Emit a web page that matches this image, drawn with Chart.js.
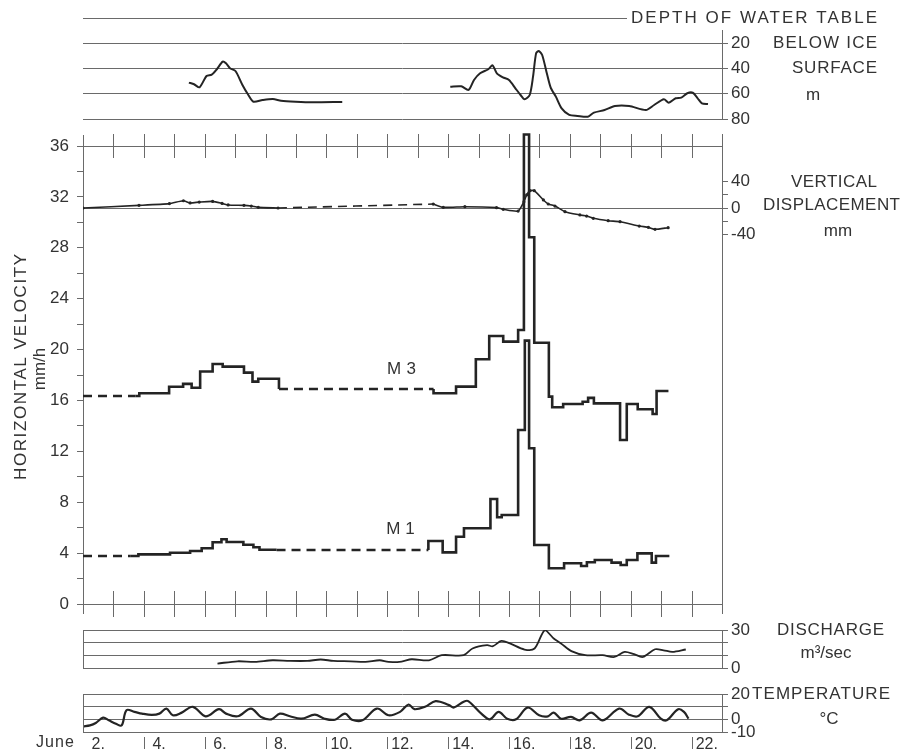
<!DOCTYPE html>
<html>
<head>
<meta charset="utf-8">
<title>Horizontal velocity, water table, discharge and temperature, June</title>
<script src="https://cdn.jsdelivr.net/npm/chart.js@4.4.1/dist/chart.umd.min.js"></script>
<style>
  html, body { margin: 0; padding: 0; background: #fff; }
  #board { position: relative; width: 909px; height: 751px; }
  #board canvas { position: absolute; left: 0; top: 0; }
</style>
</head>
<body>
<div id="board">
  <canvas id="waterChart" width="909" height="751"></canvas>
  <canvas id="velocityChart" width="909" height="751"></canvas>
  <canvas id="dischargeChart" width="909" height="751"></canvas>
  <canvas id="temperatureChart" width="909" height="751"></canvas>
</div>
<script>
// Days are June dates with fractions (2.5 = noon on June 2).
var DAY_MIN = 2, DAY_MAX = 23;
var dayLabels = [2, 4, 6, 8, 10, 12, 14, 16, 18, 20, 22];

// depth of water table below ice surface, m
var waterDaysA = [5.48, 5.65, 5.83, 6.06, 6.23, 6.40, 6.59, 6.70, 6.83, 7.01, 7.24, 7.42, 7.60, 7.90, 8.24, 8.51, 8.99, 9.53, 10.52];
var waterDepthA = [51.2, 52.5, 54.9, 45.9, 44.9, 40.6, 34.6, 35.9, 39.8, 42.0, 53.0, 60.4, 66.3, 65.0, 64.2, 65.5, 66.3, 66.8, 66.5];
var waterDaysB = [14.07, 14.43, 14.67, 14.85, 15.05, 15.32, 15.46, 15.60, 15.80, 16.00, 16.21, 16.38, 16.51, 16.68, 16.79, 16.89, 16.98, 17.09, 17.23, 17.37, 17.54, 17.73, 17.98, 18.25, 18.59, 18.79, 19.14, 19.48, 19.95, 20.50, 20.77, 21.09, 21.25, 21.48, 21.66, 21.86, 22.04, 22.20, 22.34, 22.54];
var waterDepthB = [54.4, 54.1, 57.0, 49.1, 43.8, 40.6, 37.5, 43.8, 47.0, 49.1, 55.7, 61.0, 64.4, 61.0, 46.5, 28.0, 26.1, 29.3, 42.5, 55.2, 62.3, 71.6, 76.8, 77.6, 78.2, 75.0, 72.9, 69.7, 69.7, 72.9, 68.9, 64.4, 67.1, 63.6, 63.1, 59.6, 59.2, 63.6, 67.6, 68.1];

// vertical displacement, mm
var dispDaysA = [2.0, 3.84, 4.84, 5.30, 5.52, 5.82, 6.26, 6.57, 6.77, 7.29, 7.53, 7.76, 8.41];
var dispMmA = [0, 4, 6.7, 11, 7.7, 9, 10, 7, 4.6, 4, 3, 1, 0];
var dispGapDays = [8.41, 13.51];
var dispGapMm = [0, 6];
var dispDaysB = [13.51, 13.84, 14.55, 15.59, 15.81, 16.30, 16.49, 16.58, 16.69, 16.83, 17.13, 17.29, 17.51, 17.84, 18.33, 18.55, 18.77, 19.26, 19.65, 20.28, 20.58, 20.80, 21.23];
var dispMmB = [6, 1, 2, 0.5, -2, -4.6, 9.6, 19.8, 26.3, 26.3, 12.2, 6.1, 3, -5.6, -10.6, -12.2, -15.7, -19.3, -20.8, -27.4, -29.4, -32.4, -29.9];

// horizontal velocity M 3, mm/h (value holds from its day to the next one)
var m3GapDaysA = [2.0, 3.72];
var m3GapVelA = [16.35, 16.35];
var m3DaysA = [3.72, 3.85, 4.83, 5.29, 5.57, 5.85, 6.26, 6.59, 7.29, 7.57, 7.76, 8.44];
var m3VelA = [16.35, 16.56, 17.08, 17.3, 17.0, 18.27, 18.87, 18.66, 18.19, 17.48, 17.71, 16.9];
var m3GapDaysB = [8.44, 13.52];
var m3GapVelB = [16.9, 16.9];
var m3DaysB = [13.52, 13.52, 14.26, 14.91, 15.35, 15.81, 16.30, 16.49, 16.66, 16.83, 17.31, 17.42, 17.78, 18.42, 18.60, 18.79, 19.65, 19.87, 20.23, 20.72, 20.85, 21.24];
var m3VelB = [16.9, 16.56, 17.09, 19.24, 21.07, 20.62, 21.54, 36.9, 28.83, 20.54, 16.3, 15.46, 15.72, 15.9, 16.2, 15.77, 12.89, 15.72, 15.31, 14.94, 16.74, 16.74];

// horizontal velocity M 1, mm/h
var m1GapDaysA = [2.0, 3.55];
var m1GapVelA = [3.77, 3.77];
var m1DaysA = [3.55, 3.82, 4.86, 5.52, 5.90, 6.26, 6.55, 6.72, 7.27, 7.60, 7.80, 8.36];
var m1VelA = [3.77, 3.9, 4.03, 4.17, 4.38, 4.85, 5.09, 4.87, 4.66, 4.46, 4.27, 4.27];
var m1GapDaysB = [8.36, 13.35];
var m1GapVelB = [4.25, 4.25];
var m1DaysB = [13.35, 13.35, 13.82, 14.26, 14.52, 15.39, 15.61, 15.76, 16.30, 16.52, 16.66, 16.83, 17.31, 17.81, 18.37, 18.56, 18.82, 19.37, 19.67, 19.87, 20.22, 20.69, 20.83, 21.27];
var m1VelB = [4.25, 4.95, 4.06, 5.29, 5.95, 8.25, 6.82, 7.0, 13.68, 20.7, 12.24, 4.64, 2.81, 3.2, 2.99, 3.28, 3.46, 3.25, 3.07, 3.46, 3.98, 3.25, 3.77, 3.77];

// discharge, m3/sec
var dischargeDays = [6.42, 7.08, 7.65, 8.23, 8.80, 9.37, 9.81, 10.23, 10.80, 11.28, 11.75, 12.04, 12.47, 12.80, 13.37, 13.79, 14.51, 14.80, 15.28, 15.47, 15.75, 16.03, 16.51, 16.84, 17.18, 17.47, 17.71, 18.05, 18.51, 19.08, 19.46, 19.80, 20.11, 20.40, 20.80, 21.08, 21.37, 21.81];
var dischargeVal = [3.5, 5.3, 4.8, 6.1, 5.6, 5.6, 6.7, 5.6, 5.3, 4.8, 6.1, 4.8, 5.1, 6.9, 6.1, 10.1, 10.1, 15.4, 18.0, 17.2, 21.4, 19.4, 14.6, 15.4, 29.9, 23.3, 19.4, 13.3, 10.1, 10.1, 8.7, 12.7, 10.9, 8.7, 14.8, 14.0, 12.7, 14.6];

// air temperature, deg C
var tempDays = [2.00, 2.23, 2.42, 2.66, 2.85, 3.08, 3.27, 3.43, 3.69, 3.94, 4.26, 4.51, 4.74, 4.95, 5.23, 5.61, 6.03, 6.47, 6.70, 7.08, 7.52, 7.85, 8.19, 8.47, 8.80, 9.18, 9.62, 9.94, 10.28, 10.61, 10.84, 11.18, 11.66, 12.04, 12.42, 12.70, 12.89, 13.24, 13.59, 14.03, 14.19, 14.51, 14.66, 15.09, 15.37, 15.66, 15.94, 16.23, 16.61, 16.99, 17.28, 17.47, 17.71, 18.04, 18.32, 18.70, 19.08, 19.62, 19.94, 20.23, 20.61, 20.99, 21.18, 21.56, 21.75, 21.90];
var tempVal = [-5.6, -4.8, -2.9, 1.3, -0.8, -3.5, -4.8, 7.2, 5.9, 4.5, 3.5, 4.5, 8.5, 3.2, 5.1, 9.9, 2.4, 8.0, 4.5, 2.4, 8.5, 1.9, 0.0, 4.5, 2.4, 0.5, 3.7, 0.5, -0.3, 4.5, -0.3, -0.8, 8.5, 3.2, 5.9, 11.7, 8.0, 9.9, 14.4, 11.2, 9.3, 13.9, 14.4, 4.5, 0.0, 5.9, 0.5, 0.0, 9.3, 3.2, 2.4, 5.3, 0.5, 1.9, -0.8, 5.3, -0.8, 8.5, 3.7, 2.4, 9.9, 0.5, -0.8, 8.0, 5.9, 0.5];

var ink = '#242424';
var gridInk = '#6a6a6a';
var textInk = '#333';
var FONT = "'Liberation Sans', Arial, sans-serif";
var RIGHT_AXIS = 40;          // width kept for the right-hand number column
var PAD_RIGHT = 909 - 722 - RIGHT_AXIS;
var NONE = 'rgba(0,0,0,0)';

function pts(xs, ys) {
  return xs.map(function (x, i) { return { x: x, y: ys[i] }; });
}

// text spread between two x positions, like the lettering on the original
function spread(ctx, str, left, right, y, size) {
  ctx.save();
  ctx.font = size + 'px ' + FONT;
  ctx.fillStyle = textInk;
  ctx.textBaseline = 'middle';
  var w = ctx.measureText(str).width;
  var gap = str.length > 1 ? (right - left - w) / (str.length - 1) : 0;
  if (gap > 0 && 'letterSpacing' in ctx) {
    ctx.letterSpacing = gap.toFixed(2) + 'px';
    ctx.textAlign = 'left';
    ctx.fillText(str, left, y);
  } else {
    ctx.textAlign = 'center';
    ctx.fillText(str, (left + right) / 2, y);
  }
  ctx.restore();
}

function centred(ctx, str, x, y, size) {
  ctx.save();
  ctx.font = size + 'px ' + FONT;
  ctx.fillStyle = textInk;
  ctx.textBaseline = 'middle';
  ctx.textAlign = 'center';
  ctx.fillText(str, x, y);
  ctx.restore();
}

function vline(ctx, x, y1, y2) {
  var px = Math.round(x) + 0.5;
  ctx.moveTo(px, y1);
  ctx.lineTo(px, y2);
}

function baseOptions(top, bottom) {
  return {
    responsive: false,
    animation: false,
    events: [],
    layout: { padding: { left: 83, right: PAD_RIGHT, top: top, bottom: bottom } },
    plugins: { legend: { display: false }, tooltip: { enabled: false } },
    elements: {
      point: { radius: 0 },
      line: { borderColor: ink, borderWidth: 2, fill: false, tension: 0.3 }
    }
  };
}

function dayAxis() {
  return { type: 'linear', min: DAY_MIN, max: DAY_MAX, display: false };
}

function rightAxis(min, max, values, labelOf, gridOf, showBorder) {
  return {
    position: 'right',
    min: min,
    max: max,
    afterFit: function (s) { s.width = RIGHT_AXIS; },
    afterBuildTicks: function (s) {
      s.ticks = values.map(function (v) { return { value: v }; });
    },
    border: { display: showBorder, color: gridInk, width: 1 },
    grid: { color: gridOf, tickColor: gridInk, tickLength: 6, lineWidth: 1 },
    ticks: {
      autoSkip: false, padding: 3, color: textInk,
      font: { family: FONT, size: 17 },
      callback: labelOf
    }
  };
}

function allGrid() { return gridInk; }

// ---------- depth of water table ----------
var waterDecor = {
  id: 'waterDecor',
  afterDraw: function (chart) {
    var ctx = chart.ctx, a = chart.chartArea, y = chart.scales.y;
    ctx.save();
    ctx.strokeStyle = gridInk;
    ctx.lineWidth = 1;
    ctx.beginPath();
    var y0 = Math.round(y.getPixelForValue(0)) + 0.5;
    ctx.moveTo(a.left, y0);
    ctx.lineTo(627, y0);
    vline(ctx, a.right, 30, y.getPixelForValue(80));
    ctx.stroke();
    ctx.restore();
    spread(ctx, 'DEPTH OF WATER TABLE', 631, 877, y0, 17);
    spread(ctx, 'BELOW ICE', 773, 877, y.getPixelForValue(20), 17);
    spread(ctx, 'SURFACE', 792, 877, y.getPixelForValue(40), 17);
    centred(ctx, 'm', 813, y.getPixelForValue(60) + 2, 17);
  }
};

var waterOptions = baseOptions(18, 751 - 119);
waterOptions.scales = {
  x: dayAxis(),
  y: Object.assign(rightAxis(0, 80, [20, 40, 60, 80], function (v) { return String(v); }, allGrid, false), { reverse: true })
};

new Chart(document.getElementById('waterChart'), {
  type: 'line',
  data: {
    datasets: [
      { data: pts(waterDaysA, waterDepthA), tension: 0.25 },
      { data: pts(waterDaysB, waterDepthB), tension: 0.25 }
    ]
  },
  options: waterOptions,
  plugins: [waterDecor]
});

// ---------- horizontal velocity and vertical displacement ----------
var DISP_ZERO_PX = 208, DISP_PX_PER_MM = 0.658, VEL_TOP_PX = 146, VEL_BOTTOM_PX = 604;

var velocityDecor = {
  id: 'velocityDecor',
  afterDraw: function (chart) {
    var ctx = chart.ctx, a = chart.chartArea, x = chart.scales.x, y = chart.scales.y;
    var top = y.getPixelForValue(36), bot = y.getPixelForValue(0);
    ctx.save();
    ctx.strokeStyle = gridInk;
    ctx.lineWidth = 1;
    ctx.beginPath();
    for (var d = DAY_MIN + 1; d < DAY_MAX; d++) {
      var px = x.getPixelForValue(d);
      vline(ctx, px, top - 12, top + 12);
      vline(ctx, px, bot - 13, bot + 13);
    }
    vline(ctx, a.left, top - 11, top);
    vline(ctx, a.left, bot, bot + 10);
    vline(ctx, a.right, top - 12, top);
    vline(ctx, a.right, bot, bot + 10);
    ctx.stroke();
    ctx.restore();

    spread(ctx, 'VERTICAL', 791, 877, 182, 17);
    spread(ctx, 'DISPLACEMENT', 763, 900, 205, 17);
    centred(ctx, 'mm', 838, 231, 17);
    spread(ctx, 'M 3', 387, 416, 369, 17);
    spread(ctx, 'M 1', 387, 414, 529, 17);

    ctx.save();
    ctx.translate(21, 367);
    ctx.rotate(-Math.PI / 2);
    spread(ctx, 'HORIZONTAL VELOCITY', -113, 113, 0, 17);
    ctx.restore();
    ctx.save();
    ctx.translate(40, 369);
    ctx.rotate(-Math.PI / 2);
    centred(ctx, 'mm/h', 0, 0, 17);
    ctx.restore();
  }
};

var velocityOptions = baseOptions(VEL_TOP_PX, 751 - VEL_BOTTOM_PX);
velocityOptions.layout.padding.left = 0;
velocityOptions.scales = {
  x: dayAxis(),
  y: {
    position: 'left',
    min: 0,
    max: 36,
    afterFit: function (s) { s.width = 83; },
    afterBuildTicks: function (s) {
      var t = [];
      for (var v = 0; v <= 36; v += 2) t.push({ value: v });
      s.ticks = t;
    },
    border: { display: true, color: gridInk, width: 1 },
    grid: {
      color: function (c) { return c.tick && (c.tick.value === 0 || c.tick.value === 36) ? gridInk : NONE; },
      tickColor: gridInk, tickLength: 6, lineWidth: 1
    },
    ticks: {
      autoSkip: false, padding: 8, color: textInk,
      font: { family: FONT, size: 17 },
      callback: function (v) { return v % 4 === 0 ? String(v) : ''; }
    }
  },
  yd: rightAxis(
    -(VEL_BOTTOM_PX - DISP_ZERO_PX) / DISP_PX_PER_MM,
    (DISP_ZERO_PX - VEL_TOP_PX) / DISP_PX_PER_MM,
    [-40, -20, 0, 20, 40],
    function (v) { return v === 0 ? '0' : (Math.abs(v) === 40 ? String(v) : ''); },
    function (c) { return c.tick && c.tick.value === 0 ? gridInk : NONE; },
    true
  )
};

var dashed = [9, 6];
function stepSet(xs, ys, dash) {
  return {
    data: pts(xs, ys), yAxisID: 'y', stepped: 'before', tension: 0,
    borderWidth: 2.6, borderDash: dash || [], clip: 16
  };
}
function dispSet(xs, ys, dash) {
  return {
    data: pts(xs, ys), yAxisID: 'yd', tension: 0.2, borderWidth: 1.6,
    borderDash: dash || [], pointRadius: dash ? 0 : 1.6,
    pointBackgroundColor: ink, pointBorderWidth: 0
  };
}

new Chart(document.getElementById('velocityChart'), {
  type: 'line',
  data: {
    datasets: [
      dispSet(dispDaysA, dispMmA),
      dispSet(dispGapDays, dispGapMm, dashed),
      dispSet(dispDaysB, dispMmB),
      stepSet(m3GapDaysA, m3GapVelA, dashed),
      stepSet(m3DaysA, m3VelA),
      stepSet(m3GapDaysB, m3GapVelB, dashed),
      stepSet(m3DaysB, m3VelB),
      stepSet(m1GapDaysA, m1GapVelA, dashed),
      stepSet(m1DaysA, m1VelA),
      stepSet(m1GapDaysB, m1GapVelB, dashed),
      stepSet(m1DaysB, m1VelB)
    ]
  },
  options: velocityOptions,
  plugins: [velocityDecor]
});

// ---------- discharge ----------
var dischargeDecor = {
  id: 'dischargeDecor',
  afterDraw: function (chart) {
    var ctx = chart.ctx, a = chart.chartArea;
    ctx.save();
    ctx.strokeStyle = gridInk;
    ctx.lineWidth = 1;
    ctx.beginPath();
    vline(ctx, a.left, a.top, a.bottom);
    ctx.stroke();
    ctx.restore();
    spread(ctx, 'DISCHARGE', 777, 884, a.top, 17);
    centred(ctx, 'm\u00b3/sec', 826, 653, 17);
  }
};

var dischargeOptions = baseOptions(630, 751 - 668);
dischargeOptions.scales = {
  x: dayAxis(),
  y: rightAxis(0, 30, [0, 10, 20, 30], function (v) { return v === 0 || v === 30 ? String(v) : ''; }, allGrid, true)
};

new Chart(document.getElementById('dischargeChart'), {
  type: 'line',
  data: { datasets: [{ data: pts(dischargeDays, dischargeVal), borderWidth: 1.8 }] },
  options: dischargeOptions,
  plugins: [dischargeDecor]
});

// ---------- temperature ----------
var temperatureDecor = {
  id: 'temperatureDecor',
  afterDraw: function (chart) {
    var ctx = chart.ctx, a = chart.chartArea, x = chart.scales.x;
    ctx.save();
    ctx.strokeStyle = gridInk;
    ctx.lineWidth = 1;
    ctx.beginPath();
    vline(ctx, a.left, a.top, a.bottom);
    dayLabels.forEach(function (d) {
      if (d > DAY_MIN) vline(ctx, x.getPixelForValue(d), a.bottom + 5, a.bottom + 17);
    });
    ctx.stroke();
    ctx.restore();
    spread(ctx, 'TEMPERATURE', 752, 890, a.top, 17);
    centred(ctx, '\u00b0C', 829, chart.scales.y.getPixelForValue(0), 17);
    spread(ctx, 'June', 36, 74, 743, 16);
  }
};

var temperatureOptions = baseOptions(694, 0);
temperatureOptions.scales = {
  x: {
    type: 'linear',
    min: DAY_MIN,
    max: DAY_MAX,
    position: 'bottom',
    afterFit: function (s) { s.height = 19; },
    afterBuildTicks: function (s) {
      s.ticks = dayLabels.map(function (d) { return { value: d }; });
    },
    border: { display: false },
    grid: { drawOnChartArea: false, drawTicks: false },
    ticks: {
      autoSkip: false, maxRotation: 0, minRotation: 0, padding: 3,
      labelOffset: 15.2, color: textInk,
      font: { family: FONT, size: 16 },
      callback: function (v) { return v + '.'; }
    }
  },
  y: rightAxis(-10, 20, [-10, 0, 10, 20], function (v) { return v === 10 ? '' : String(v); }, allGrid, true)
};

new Chart(document.getElementById('temperatureChart'), {
  type: 'line',
  data: { datasets: [{ data: pts(tempDays, tempVal), borderWidth: 2.2, tension: 0.35 }] },
  options: temperatureOptions,
  plugins: [temperatureDecor]
});
</script>
</body>
</html>
